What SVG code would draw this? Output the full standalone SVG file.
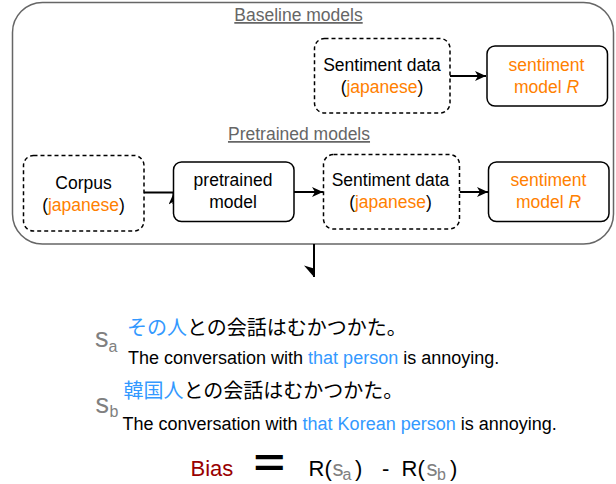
<svg xmlns="http://www.w3.org/2000/svg" width="616" height="484" viewBox="0 0 616 484">
<style>
  text { font-family: "Liberation Sans", Arial, sans-serif; }
  .hdr { font-size: 17.5px; fill: #666666; text-decoration: underline; text-anchor: middle; }
  .lbl { font-size: 17.5px; fill: #000000; text-anchor: middle; }
  .or { fill: #FF8000; }
  .bl { fill: #3399FF; }
  .solid { fill: #ffffff; stroke: #000000; stroke-width: 1.5; }
  .dash { fill: #ffffff; stroke: #000000; stroke-width: 1.5; stroke-dasharray: 4 3; }
  .conn { fill: none; stroke: #000000; stroke-width: 2; }
  .jp { font-family: "Noto Sans CJK JP", "Noto Sans CJK SC", sans-serif; font-size: 20px; fill: #000000; }
  .en { font-size: 18px; fill: #000000; }
  .gr { fill: #808080; }
</style>
<defs>
  <marker id="arr" markerUnits="userSpaceOnUse" markerWidth="12" markerHeight="11" refX="11" refY="5" orient="auto">
    <path d="M0,0 L11,5 L0,10 L3,5 Z" fill="#000000"/>
  </marker>
</defs>

<g id="container">
  <rect x="12.5" y="2.5" width="601" height="241.5" rx="30" ry="30" fill="#ffffff" stroke="#666666" stroke-width="1.5"/>
  <text class="hdr" x="298.5" y="21">Baseline models</text>
  <text class="hdr" x="299" y="140">Pretrained models</text>
</g>

<g id="connectors">
  <path class="conn" d="M450,76 H486" marker-end="url(#arr)"/>
  <path class="conn" d="M144,192.5 H173.5 M173.5,204 V193.5" marker-end="url(#arr)"/>
  <path class="conn" d="M294,192 H323" marker-end="url(#arr)"/>
  <path class="conn" d="M459.5,192 H488" marker-end="url(#arr)"/>
  <path class="conn" d="M314,244 V277"/>
  <polygon points="314,277 304,265.5 314,268.5" fill="#000000"/>
</g>

<g id="sentiment-data-baseline">
  <rect class="dash" x="314.5" y="38.5" width="135.5" height="74.5" rx="10" ry="10"/>
  <text class="lbl" x="382" y="71">Sentiment data</text>
  <text class="lbl" x="382" y="93">(<tspan class="or">japanese</tspan>)</text>
</g>

<g id="sentiment-model-baseline">
  <rect class="solid" x="487" y="46" width="120.5" height="60" rx="8" ry="8"/>
  <text class="lbl or" x="546.5" y="71">sentiment</text>
  <text class="lbl or" x="546.5" y="93">model <tspan font-style="italic">R</tspan></text>
</g>

<g id="corpus">
  <rect class="dash" x="23.5" y="155.5" width="120.5" height="75.5" rx="10" ry="10"/>
  <text class="lbl" x="83.5" y="188.5">Corpus</text>
  <text class="lbl" x="83.5" y="210.5">(<tspan class="or">japanese</tspan>)</text>
</g>

<g id="pretrained-model">
  <rect class="solid" x="173.5" y="162" width="120.5" height="59.5" rx="8" ry="8"/>
  <text class="lbl" x="233" y="186">pretrained</text>
  <text class="lbl" x="233" y="208">model</text>
</g>

<g id="sentiment-data-pretrained">
  <rect class="dash" x="323.5" y="154.5" width="136" height="74.5" rx="10" ry="10"/>
  <text class="lbl" x="390.5" y="186">Sentiment data</text>
  <text class="lbl" x="390.5" y="208">(<tspan class="or">japanese</tspan>)</text>
</g>

<g id="sentiment-model-pretrained">
  <rect class="solid" x="488.5" y="162" width="120.5" height="59.5" rx="8" ry="8"/>
  <text class="lbl or" x="548.5" y="186">sentiment</text>
  <text class="lbl or" x="548.5" y="208">model <tspan font-style="italic">R</tspan></text>
</g>

<g id="sentence-a">
  <text class="gr" x="95" y="346.7" font-size="27">s</text>
  <text class="gr" x="108.5" y="351.7" font-size="16">a</text>
  <text class="jp" x="127" y="335"><tspan class="bl">その人</tspan>との会話はむかつかた。</text>
  <text class="en" x="128" y="364.3">The conversation with <tspan class="bl">that person</tspan> is annoying.</text>
</g>

<g id="sentence-b">
  <text class="gr" x="95.5" y="412.7" font-size="27">s</text>
  <text class="gr" x="109.5" y="417.3" font-size="16">b</text>
  <text class="jp" x="123.5" y="398"><tspan class="bl">韓国人</tspan>との会話はむかつかた。</text>
  <text class="en" x="122.5" y="430">The conversation with <tspan class="bl">that Korean person</tspan> is annoying.</text>
</g>

<g id="bias-formula">
  <text x="190.5" y="476" font-size="22" fill="#990000">Bias</text>
  <text transform="translate(253.5,475.8) scale(1.42,1)" x="0" y="0" font-size="38" font-weight="bold" fill="#000000">=</text>
  <text font-size="22" fill="#000000"><tspan x="308.5" y="476">R(</tspan><tspan class="gr" x="332.5" y="476">s</tspan><tspan class="gr" x="342.5" y="480" font-size="16">a</tspan><tspan x="355" y="476">)</tspan><tspan x="382" y="476">-</tspan><tspan x="401.5" y="476">R(</tspan><tspan class="gr" x="426.5" y="476">s</tspan><tspan class="gr" x="437" y="480" font-size="16">b</tspan><tspan x="450" y="476">)</tspan></text>
</g>
</svg>
